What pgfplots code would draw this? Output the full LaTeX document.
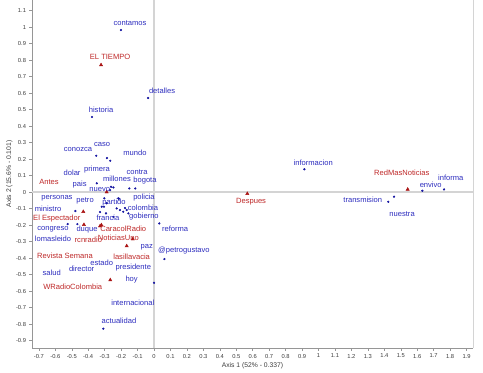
\documentclass[border=0pt]{standalone}
\usepackage{pgfplots}
\usepackage{pgfplotstable}
\pgfplotsset{compat=1.18}
\usepackage{fontspec}
\setmainfont{Liberation Sans}
\definecolor{ptblue}{RGB}{20,20,160}
\definecolor{lblblue}{RGB}{45,45,190}
\definecolor{ptred}{RGB}{170,20,20}
\definecolor{lblred}{RGB}{190,40,40}
\definecolor{zerogray}{RGB}{212,212,212}
\definecolor{framegray}{RGB}{150,150,150}
\definecolor{tickgray}{RGB}{60,60,60}

\pgfplotstableread[col sep=comma]{
x,y
-0.201,0.982
-0.036,0.570
-0.377,0.455
-0.351,0.220
-0.286,0.206
-0.266,0.190
-0.348,0.053
-0.261,0.032
-0.247,0.028
-0.150,0.022
-0.114,0.022
-0.267,0.012
-0.525,-0.194
-0.478,-0.115
-0.466,-0.194
-0.318,-0.089
-0.304,-0.089
-0.288,-0.068
-0.213,-0.041
-0.227,-0.099
-0.207,-0.109
-0.187,-0.119
-0.166,-0.109
-0.156,-0.129
-0.247,-0.150
-0.292,-0.129
0.032,-0.190
-0.302,-0.038
-0.217,-0.038
0.063,-0.406
0.000,-0.550
-0.308,-0.828
-0.176,-0.097
-0.328,-0.121
0.914,0.138
1.631,0.008
1.763,0.016
1.424,-0.059
1.459,-0.028
}\bluepts

\pgfplotstableread[col sep=comma]{
x,y,label
-0.146,1.024,contamos
0.049,0.612,detalles
-0.322,0.497,historia
-0.462,0.255,conozca
-0.316,0.291,caso
-0.116,0.236,mundo
-0.498,0.117,dolar
-0.347,0.139,primera
-0.225,0.079,millones
-0.103,0.121,contra
-0.055,0.067,bogota
-0.452,0.044,pais
-0.330,0.016,nuevo
-0.590,-0.035,personas
-0.419,-0.053,petro
-0.243,-0.065,partido
-0.061,-0.032,policia
-0.644,-0.103,ministro
-0.067,-0.093,colombia
-0.280,-0.156,francia
-0.061,-0.150,gobierno
-0.614,-0.224,congreso
-0.407,-0.226,duque
0.128,-0.220,reforma
-0.614,-0.285,lomasleido
-0.044,-0.335,paz
0.182,-0.352,@petrogustavo
-0.318,-0.428,estado
-0.126,-0.459,presidente
-0.622,-0.489,salud
-0.440,-0.467,director
-0.136,-0.533,hoy
-0.129,-0.671,internacional
-0.213,-0.782,actualidad
0.968,0.180,informacion
1.682,0.042,envivo
1.804,0.087,informa
1.269,-0.044,transmision
1.508,-0.133,nuestra
}\bluelbl

\pgfplotstableread[col sep=comma]{
x,y
-0.322,0.770
-0.288,0.000
0.567,-0.010
1.542,0.016
-0.430,-0.119
-0.426,-0.198
-0.328,-0.206
-0.129,-0.285
-0.166,-0.327
-0.266,-0.533
-0.320,-0.200
}\redpts

\pgfplotstableread[col sep=comma]{
x,y,label
-0.267,0.818,EL TIEMPO
-0.638,0.061,Antes
0.590,-0.056,Despues
1.506,0.117,RedMasNoticias
-0.591,-0.159,El Espectador
-0.187,-0.220,CaracolRadio
-0.399,-0.287,rcnradio
-0.217,-0.275,NoticiasUno
-0.541,-0.386,Revista Semana
-0.136,-0.392,lasillavacia
-0.494,-0.574,WRadioColombia
}\redlbl

\begin{document}
\begin{tikzpicture}[x=1bp,y=1bp]
\begin{axis}[
  at={(32bp,25bp)}, anchor=south west,
  scale only axis, width=441bp, height=348bp,
  xmin=-0.7417, xmax=1.939, ymin=-0.945, ymax=1.164,
  axis x line*=bottom, axis y line*=left,
  axis line style={draw=framegray, line width=0.6bp},
  xtick={-0.7,-0.6,-0.5,-0.4,-0.3,-0.2,-0.1,0,0.1,0.2,0.3,0.4,0.5,0.6,0.7,0.8,0.9,1,1.1,1.2,1.3,1.4,1.5,1.6,1.7,1.8,1.9},
  ytick={-0.9,-0.8,-0.7,-0.6,-0.5,-0.4,-0.3,-0.2,-0.1,0,0.1,0.2,0.3,0.4,0.5,0.6,0.7,0.8,0.9,1,1.1},
  xticklabel style={font=\fontsize{5.8}{6}\selectfont, text=tickgray},
  yticklabel style={font=\fontsize{5.8}{6}\selectfont, text=tickgray},
  /pgf/number format/assume math mode=true,
  /pgf/number format/fixed,
  tick align=outside, major tick length=2.5bp,
  tick style={draw=framegray, line width=0.5bp},
  xlabel={Axis 1 (52\% - 0.337)},
  ylabel={Axis 2 (15.6\% - 0.101)},
  xlabel style={font=\fontsize{6.8}{7}\selectfont, text=tickgray, at={(axis description cs:0.5,0)}, anchor=north, yshift=-11bp},
  ylabel style={font=\fontsize{6.8}{7}\selectfont, text=tickgray, at={(axis description cs:0,0.5)}, anchor=south, yshift=16bp},
  clip=false,
]
\draw[zerogray, line width=1.6bp] (axis cs:-0.7417,0) -- (axis cs:1.939,0);
\draw[zerogray, line width=1.6bp] (axis cs:0,-0.945) -- (axis cs:0,1.164);
\draw[zerogray, line width=0.8bp] (rel axis cs:1,0) -- (rel axis cs:1,1);

\addplot[only marks, mark=*, mark size=0.9bp, color=ptblue] table[x=x,y=y] {\bluepts};
\addplot[only marks, mark=triangle*, mark size=1.9bp, color=ptred] table[x=x,y=y] {\redpts};

\addplot[only marks, mark=*, mark size=0pt, mark options={draw=none,fill=none},
  nodes near coords, point meta=explicit symbolic,
  nodes near coords style={anchor=center, inner sep=0pt, text=lblblue, font=\fontsize{7.6}{8}\selectfont}]
  table[x=x,y=y,meta=label] {\bluelbl};
\addplot[only marks, mark=*, mark size=0pt, mark options={draw=none,fill=none},
  nodes near coords, point meta=explicit symbolic,
  nodes near coords style={anchor=center, inner sep=0pt, text=lblred, font=\fontsize{7.6}{8}\selectfont}]
  table[x=x,y=y,meta=label] {\redlbl};
\end{axis}
\pgfresetboundingbox
\path[use as bounding box] (0,0) rectangle (483bp,373bp);
\end{tikzpicture}
\end{document}
